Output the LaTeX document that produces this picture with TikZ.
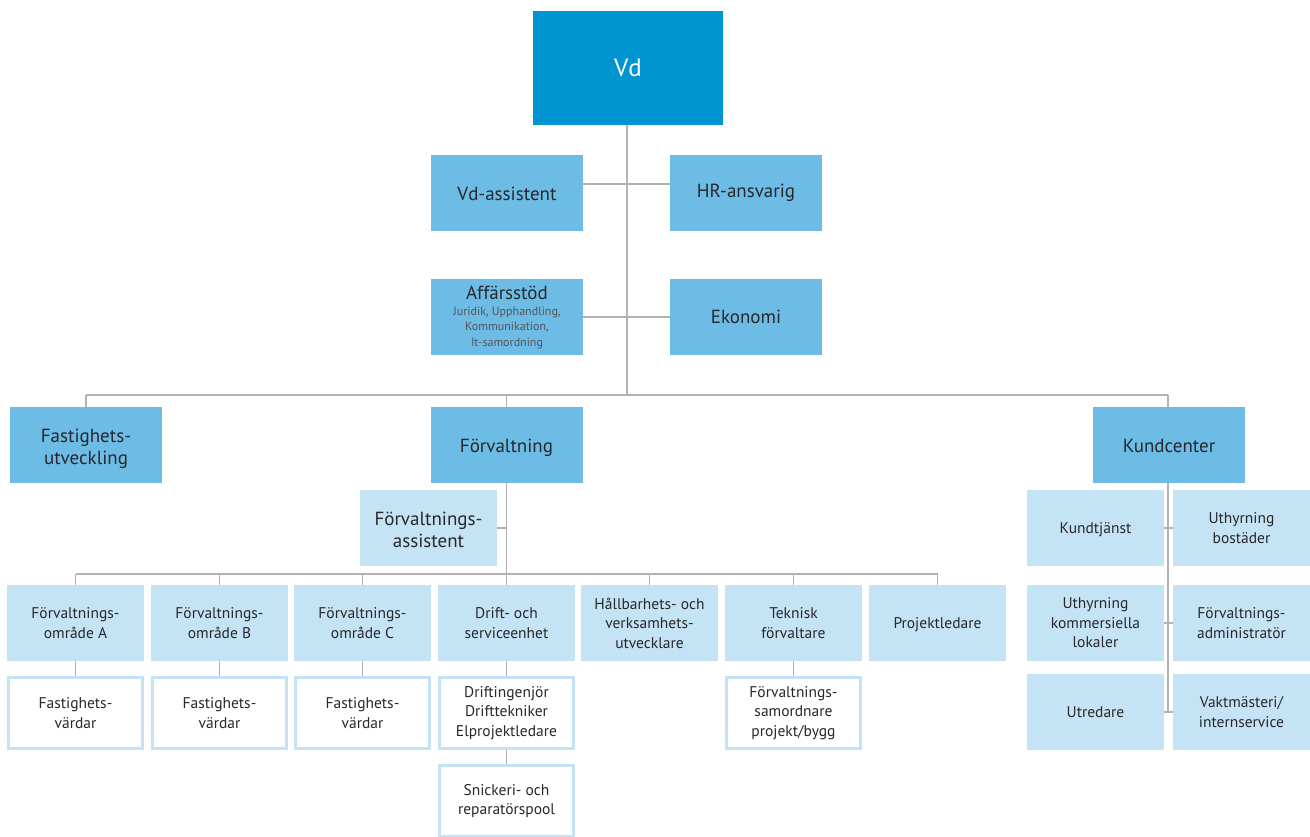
\documentclass[tikz,border=0pt]{standalone}
\usepackage{fontspec}
\setmainfont{PT Sans}
\usetikzlibrary{backgrounds}
\definecolor{topblue}{RGB}{0,148,209}
\definecolor{midblue}{RGB}{108,188,229}
\definecolor{paleblue}{RGB}{196,227,244}
\definecolor{linkgray}{RGB}{178,178,178}
\definecolor{ink}{RGB}{40,40,44}
\definecolor{subink}{RGB}{85,85,90}
\newcommand{\bigtxt}{\fontsize{19}{22}\selectfont}
\newcommand{\smalltxt}{\fontsize{15.5}{19.5}\selectfont}
% invisible strut that lowers a label a little inside its box
\newcommand{\lift}[1]{\rule{0pt}{#1}}
\tikzset{
  unitbox/.style={inner sep=0pt, align=center, text=ink},
  topbox/.style={unitbox, fill=topblue, text=white, minimum width=190pt, minimum height=114pt,
    font=\fontsize{25}{28}\selectfont},
  levelbox/.style={unitbox, fill=midblue, minimum width=152pt, minimum height=76pt, font=\bigtxt},
  unitpale/.style={unitbox, fill=paleblue, minimum width=137pt, minimum height=76pt, font=\smalltxt},
  staffbox/.style={unitbox, fill=white, draw=paleblue, line width=3pt,
    minimum width=134pt, minimum height=71pt, font=\smalltxt},
  link/.style={draw=linkgray, line width=1.5pt}
}
\begin{document}
\begin{tikzpicture}[x=1pt, y=-1pt]
\useasboundingbox (0,0) rectangle (1310,837);

% management
\node[topbox] (vd) at (628,68) {Vd};
\node[levelbox] (vdass) at (507,193) {\lift{15pt}Vd-assistent};
\node[levelbox] (hr) at (746,193) {HR-ansvarig};
\node[levelbox] (aff) at (507,317) {};
\node[unitbox, font=\bigtxt] (afftitle) at (507,293) {Affärsstöd};
\node[unitbox, text=subink, font=\fontsize{12}{15.8}\selectfont] (affsub) at (507,328)
  {Juridik, Upphandling,\\Kommunikation,\\It-samordning};
\node[levelbox] (eko) at (746,317) {Ekonomi};

% divisions
\node[levelbox] (fastutv) at (86,445) {\lift{22pt}Fastighets-\\utveckling};
\node[levelbox] (forv) at (506.5,445) {\lift{19.5pt}Förvaltning};
\node[levelbox] (kund) at (1169,445) {\lift{15pt}Kundcenter};
\node[unitpale, font=\bigtxt] (forvass) at (428.5,528) {\lift{17pt}Förvaltnings-\\assistent};

% units under Förvaltning
\node[unitpale] (r1) at (75.5,623) {Förvaltnings-\\område A};
\node[unitpale] (r2) at (219.5,623) {Förvaltnings-\\område B};
\node[unitpale] (r3) at (362.5,623) {Förvaltnings-\\område C};
\node[unitpale] (r4) at (506.5,623) {Drift- och\\serviceenhet};
\node[unitpale] (r5) at (649.5,623) {Hållbarhets- och\\verksamhets-\\utvecklare};
\node[unitpale] (r6) at (793.5,623) {Teknisk\\förvaltare};
\node[unitpale] (r7) at (937.5,623) {\lift{15pt}Projektledare};

\node[staffbox] (w1) at (75.5,713) {Fastighets-\\värdar};
\node[staffbox] (w2) at (219.5,713) {Fastighets-\\värdar};
\node[staffbox] (w3) at (362.5,713) {Fastighets-\\värdar};
\node[staffbox] (w4) at (506.5,713) {Driftingenjör\\Drifttekniker\\Elprojektledare};
\node[staffbox] (w5) at (506.5,801) {Snickeri- och\\reparatörspool};
\node[staffbox] (w6) at (793.5,713) {Förvaltnings-\\samordnare\\projekt/bygg};

% units under Kundcenter
\node[unitpale] (k1) at (1095.5,528) {\lift{15pt}Kundtjänst};
\node[unitpale] (k2) at (1241.5,528) {Uthyrning\\bostäder};
\node[unitpale] (k3) at (1095.5,623) {Uthyrning\\kommersiella\\lokaler};
\node[unitpale] (k4) at (1241.5,623) {Förvaltnings-\\administratör};
\node[unitpale] (k5) at (1095.5,712) {Utredare};
\node[unitpale] (k6) at (1241.5,712) {Vaktmästeri/\\internservice};

% junction points
\coordinate (bus1) at (627,395);
\coordinate (j1) at (627,184);
\coordinate (bus2) at (506.5,574);
\coordinate (kbot) at (1168,712);

\begin{scope}[on background layer]
  \draw[link] (vd.south -| bus1) -- (bus1);
  \draw[link] (vdass.east |- j1) -- (hr.west |- j1);
  \draw[link] (aff.east) -- (eko.west);
  \draw[link] (fastutv.north |- bus1) -- (kbot |- bus1);
  \foreach \n in {fastutv, forv}
    \draw[link] (\n.north |- bus1) -- (\n.north);
  \draw[link] (kbot |- bus1) -- (kbot |- kund.north);
  \draw[link] (forv.south) -- (bus2);
  \draw[link] (forvass.east) -- (forvass.east -| bus2);
  \draw[link] (r1.north |- bus2) -- (r7.north |- bus2);
  \foreach \n in {r1,r2,r3,r4,r5,r6,r7}
    \draw[link] (\n.north |- bus2) -- (\n.north);
  \foreach \a/\b in {r1/w1, r2/w2, r3/w3, r4/w4, w4/w5, r6/w6}
    \draw[link] (\a.south) -- (\b.north);
  \draw[link] (kbot |- kund.south) -- (kbot);
  \draw[link] (k1.east) -- (k2.west);
  \draw[link] (k3.east) -- (k4.west);
  \draw[link] (k5.east) -- (k6.west);
\end{scope}
\end{tikzpicture}
\end{document}
